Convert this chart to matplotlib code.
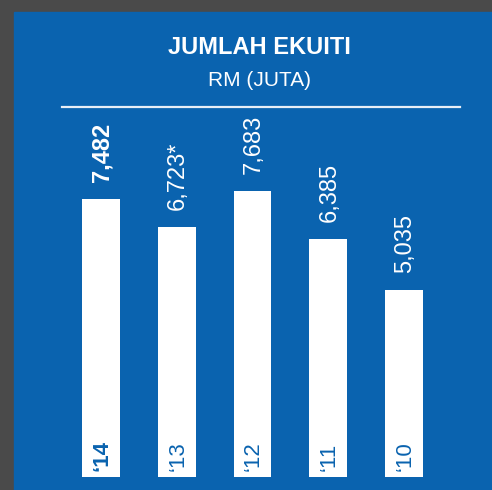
import matplotlib
matplotlib.use("Agg")
import matplotlib.pyplot as plt
from matplotlib.lines import Line2D
from matplotlib.patches import Rectangle

plt.rcParams['font.family'] = ['Liberation Sans', 'DejaVu Sans']

years = ['\u201814', '\u201813', '\u201812', '\u201811', '\u201810']
equity = [7482, 6723, 7683, 6385, 5035]
value_labels = ['7,482', '6,723*', '7,683', '6,385', '5,035']

BLUE = '#0A63AF'
GRAY = '#4A4A4A'
W, H = 492, 490

fig = plt.figure(figsize=(W / 100, H / 100), dpi=100, facecolor=GRAY)
# blue panel, behind everything
fig.add_artist(Rectangle((14 / W, 0), 1 - 14 / W, (H - 12) / H,
                         transform=fig.transFigure, color=BLUE, zorder=-10))

fig.text(259 / W, 1 - 47 / H, 'JUMLAH EKUITI', color='white', fontsize=17,
         fontweight='bold', ha='center', va='center')
fig.text(259 / W, 1 - 81 / H, 'RM (JUTA)', color='white', fontsize=15,
         ha='center', va='center')
fig.add_artist(Line2D([62 / W, 460 / W], [1 - 107 / H, 1 - 107 / H],
                      transform=fig.transFigure, color='#E8EEF6', lw=1.6))

# axes placement in pixels
left, right = 63.1, 441.9
bottom, top = 13, 390
scale = 0.03722  # px per unit
ax = fig.add_axes([left / W, bottom / H, (right - left) / W, (top - bottom) / H])
ax.set_facecolor('none')
ax.set_xlim(-0.5, 4.5)
ax.set_ylim(0, (top - bottom) / scale)
ax.axis('off')

x = range(len(equity))
ax.bar(x, equity, width=0.5, color='white')

for i, (v, lab, yr) in enumerate(zip(equity, value_labels, years)):
    wt = 'bold' if i == 0 else 'normal'
    ax.annotate(lab, (i, v), xytext=(1, 17), textcoords='offset pixels',
                rotation=90, ha='center', va='bottom', color='white',
                fontsize=17, fontweight=wt)
    ax.annotate(yr, (i, 0), xytext=(1, 6), textcoords='offset pixels',
                rotation=90, ha='center', va='bottom', color=BLUE,
                fontsize=16, fontweight=wt)

fig.savefig('out.png', dpi=100, facecolor=GRAY)
